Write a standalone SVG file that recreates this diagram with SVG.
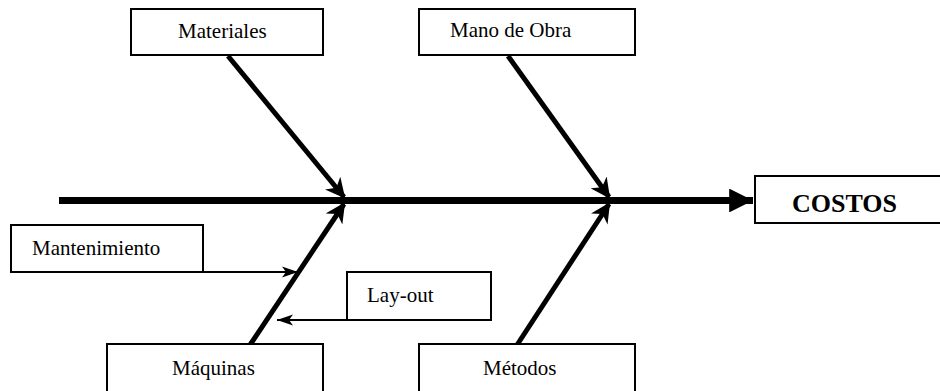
<svg xmlns="http://www.w3.org/2000/svg" width="940" height="391" viewBox="0 0 940 391">
  <style>
    .box { fill: #fff; stroke: #000; stroke-width: 2; }
    .lbl { font-family: "Liberation Serif", "Times New Roman", "DejaVu Serif", serif; font-size: 21px; fill: #000; }
    .big { font-family: "Liberation Serif", "Times New Roman", "DejaVu Serif", serif; font-size: 26px; font-weight: bold; fill: #000; }
    .bone { stroke: #000; stroke-width: 5; fill: none; }
    .thin { stroke: #000; stroke-width: 2; fill: none; }
  </style>
  <defs>
    <marker id="head" viewBox="0 0 10 10" refX="9" refY="5" markerWidth="4" markerHeight="4" orient="auto" markerUnits="strokeWidth">
      <path d="M0,0 L10,5 L0,10 L3,5 Z" fill="#000"/>
    </marker>
    <marker id="headMain" viewBox="0 0 10 10" refX="10" refY="5" markerWidth="3.4" markerHeight="3.4" orient="auto" markerUnits="strokeWidth">
      <path d="M0,0 L10,5 L0,10 Z" fill="#000"/>
    </marker>
    <marker id="headThin" viewBox="0 0 10 10" refX="10" refY="5" markerWidth="8" markerHeight="8" orient="auto" markerUnits="strokeWidth">
      <path d="M0,1.5 L10,5 L0,8.5 L2.5,5 Z" fill="#000"/>
    </marker>
  </defs>

  <!-- spine and bones -->
  <g id="connectors">
    <line x1="59" y1="200.5" x2="753" y2="200.5" stroke="#000" stroke-width="7" marker-end="url(#headMain)"/>
    <line class="bone" x1="228" y1="56" x2="344" y2="197" marker-end="url(#head)"/>
    <line class="bone" x1="508" y1="56" x2="609" y2="197" marker-end="url(#head)"/>
    <line class="bone" x1="250" y1="345" x2="344" y2="204" marker-end="url(#head)"/>
    <line class="bone" x1="517" y1="345" x2="609" y2="204" marker-end="url(#head)"/>
    <line class="thin" x1="203" y1="272" x2="298" y2="272" marker-end="url(#headThin)"/>
    <line class="thin" x1="347" y1="320" x2="277" y2="320" marker-end="url(#headThin)"/>
  </g>

  <g id="materiales">
    <rect class="box" x="131" y="9" width="192" height="46"/>
    <text class="lbl" x="178" y="38" font-family="Liberation Serif, serif">Materiales</text>
  </g>
  <g id="mano-de-obra">
    <rect class="box" x="419" y="9" width="216" height="46"/>
    <text class="lbl" x="450" y="37" font-family="Liberation Serif, serif">Mano de Obra</text>
  </g>
  <g id="costos">
    <rect class="box" x="755" y="176" width="195" height="47"/>
    <text class="big" x="792" y="212" font-family="Liberation Serif, serif">COSTOS</text>
  </g>
  <g id="mantenimiento">
    <rect class="box" x="11" y="225" width="192" height="47"/>
    <text class="lbl" x="32" y="255" font-family="Liberation Serif, serif">Mantenimiento</text>
  </g>
  <g id="lay-out">
    <rect class="box" x="347" y="272" width="144" height="48"/>
    <text class="lbl" x="367" y="302" font-family="Liberation Serif, serif">Lay-out</text>
  </g>
  <g id="maquinas">
    <rect class="box" x="107" y="344" width="216" height="60"/>
    <text class="lbl" x="172" y="375" font-family="Liberation Serif, serif">Máquinas</text>
  </g>
  <g id="metodos">
    <rect class="box" x="419" y="344" width="216" height="60"/>
    <text class="lbl" x="483" y="375" font-family="Liberation Serif, serif">Métodos</text>
  </g>
</svg>
